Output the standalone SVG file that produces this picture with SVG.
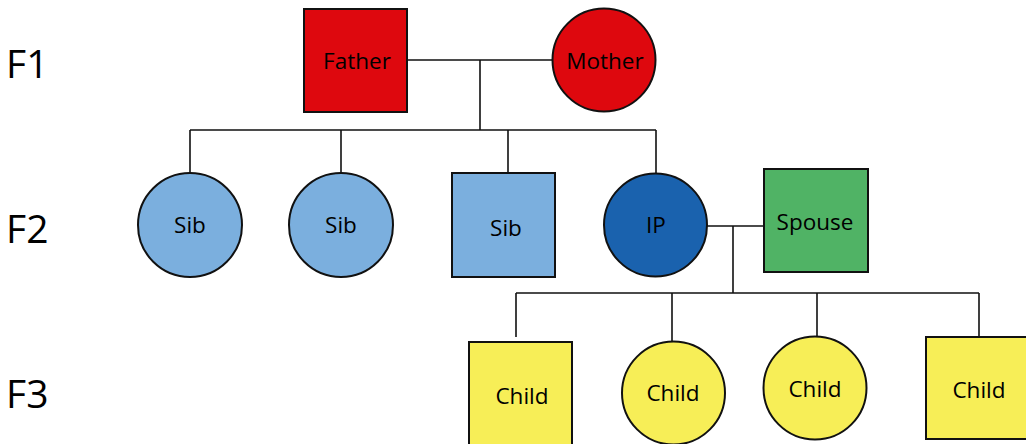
<svg xmlns="http://www.w3.org/2000/svg" width="1026" height="444" viewBox="0 0 1026 444">
<style>
.n{stroke:#111;stroke-width:2}
.red{fill:#DE080E}
.lb{fill:#7BAFDE}
.db{fill:#1A62AE}
.gr{fill:#50B365}
.ye{fill:#F7EE57}
.t{font-family:"Open Sans","Noto Sans",sans-serif;font-size:22.5px;fill:#000;text-anchor:middle}
.g{font-family:"Open Sans","Noto Sans",sans-serif;font-size:39px;fill:#000}
.c{stroke:#111;stroke-width:1.6;fill:none}
</style>
<rect width="1026" height="444" fill="#fff"/>
<g id="labels">
<text class="g" x="6" y="78">F1</text>
<text class="g" x="6" y="243">F2</text>
<text class="g" x="6" y="408">F3</text>
</g>
<g id="connectors">
<path class="c" d="M407 60H552M480 60V130M190 130H656M190 130V173M341 130V173M508 130V173M656 130V173"/>
<path class="c" d="M707 226H764M733 226V293M516 293H979M516 293V337M672 293V341M817 293V337M979 293V337"/>
</g>
<g id="father"><rect class="n red" x="304" y="9" width="103" height="103"/><text class="t" x="357" y="69">Father</text></g>
<g id="mother"><circle class="n red" cx="604" cy="60" r="51.5"/><text class="t" x="605" y="69">Mother</text></g>
<g id="sib1"><circle class="n lb" cx="190" cy="225" r="52"/><text class="t" x="190" y="233">Sib</text></g>
<g id="sib2"><circle class="n lb" cx="341" cy="225" r="52"/><text class="t" x="341" y="233">Sib</text></g>
<g id="sib3"><rect class="n lb" x="452" y="173" width="103" height="104"/><text class="t" x="506" y="236">Sib</text></g>
<g id="ip"><circle class="n db" cx="655.5" cy="225" r="51.5"/><text class="t" x="656" y="233">IP</text></g>
<g id="spouse"><rect class="n gr" x="764" y="169" width="104" height="103"/><text class="t" x="815" y="230">Spouse</text></g>
<g id="child1"><rect class="n ye" x="469" y="342" width="103" height="110"/><text class="t" x="522" y="404">Child</text></g>
<g id="child2"><circle class="n ye" cx="673.5" cy="393" r="51.5"/><text class="t" x="673" y="401">Child</text></g>
<g id="child3"><circle class="n ye" cx="815" cy="388" r="51.5"/><text class="t" x="815" y="397">Child</text></g>
<g id="child4"><rect class="n ye" x="926" y="337" width="104" height="102"/><text class="t" x="979" y="398">Child</text></g>
</svg>
